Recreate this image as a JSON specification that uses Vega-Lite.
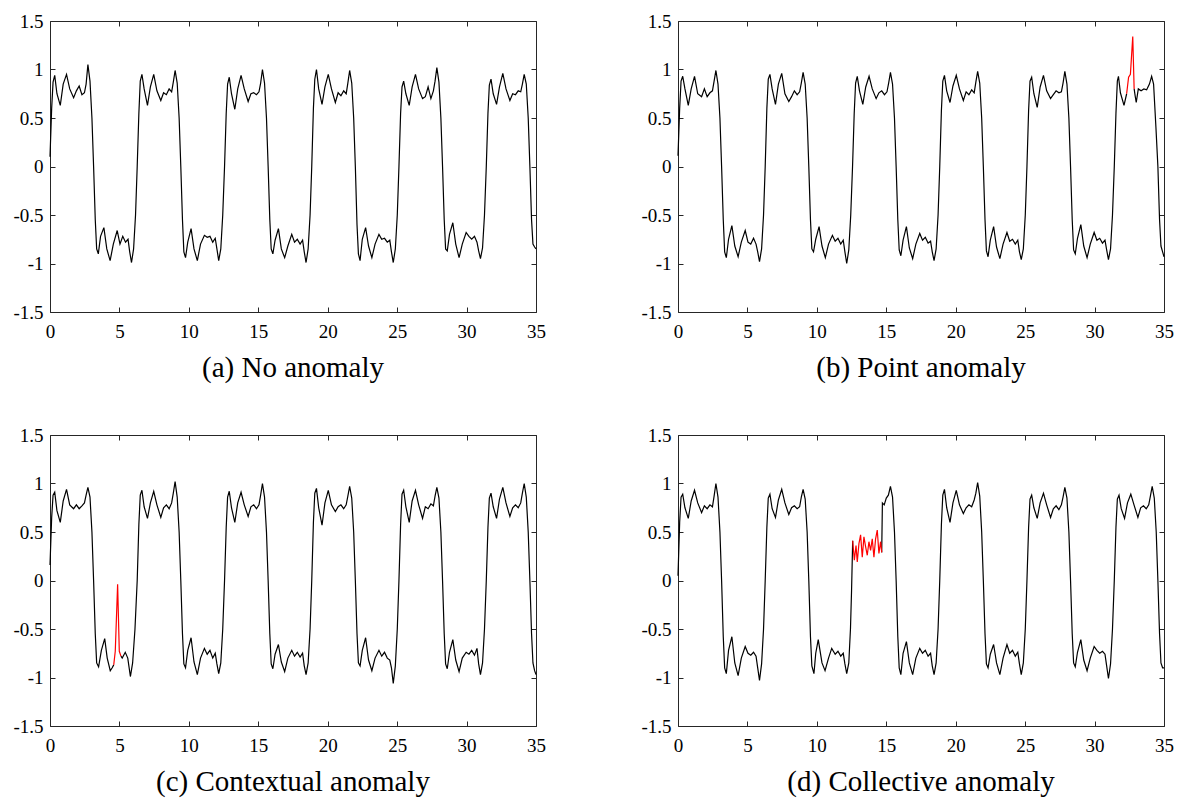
{
"$schema": "https://vega.github.io/schema/vega-lite/v6.json",
"padding": {"left": 12, "top": 12, "right": 5, "bottom": 5},
"background": "white",
"columns": 2,
"spacing": {"row": 123, "column": 142},
"bounds": "flush",
"config": {
  "view": {"stroke": null},
  "axis": {"grid": false, "domainColor": "#262626", "domainWidth": 1, "tickColor": "#262626", "tickSize": -5, "tickWidth": 1, "labelFont": "Liberation Serif", "labelFontSize": 19, "labelColor": "#000000", "labelFlush": false, "labelOverlap": false},
  "axisBottom": {"labelPadding": 15},
  "axisLeft": {"labelPadding": 12},
  "style": {"guide-label": {"font": "Liberation Serif", "fontSize": 19, "fill": "#000000"}},
  "title": {"font": "Liberation Serif", "fontSize": 29, "fontWeight": "normal", "color": "#000000", "orient": "bottom", "offset": 13, "anchor": "middle"},
  "line": {"strokeWidth": 1.2}
},
"datasets": {
"a": [
{"x":0,"y":0.1},{"x":0.12,"y":0.6},{"x":0.22,"y":0.87},{"x":0.34,"y":0.94},{"x":0.5,"y":0.75},{"x":0.74,"y":0.63},{"x":0.95,"y":0.85},{"x":1.19,"y":0.95},{"x":1.42,"y":0.8},{"x":1.7,"y":0.71},{"x":1.9,"y":0.78},{"x":2.1,"y":0.83},{"x":2.3,"y":0.74},{"x":2.48,"y":0.76},{"x":2.6,"y":0.85},{"x":2.73,"y":1.05},{"x":2.88,"y":0.88},{"x":3.02,"y":0.5},
{"x":3.14,"y":0},{"x":3.26,"y":-0.55},{"x":3.36,"y":-0.85},{"x":3.48,"y":-0.9},{"x":3.64,"y":-0.72},{"x":3.88,"y":-0.63},{"x":4.09,"y":-0.85},{"x":4.33,"y":-0.97},{"x":4.56,"y":-0.8},{"x":4.84,"y":-0.66},{"x":5.04,"y":-0.8},{"x":5.24,"y":-0.72},{"x":5.44,"y":-0.78},{"x":5.62,"y":-0.75},{"x":5.74,"y":-0.88},{"x":5.87,"y":-0.99},{"x":6.02,"y":-0.85},{"x":6.16,"y":-0.5},
{"x":6.28,"y":0},{"x":6.4,"y":0.55},{"x":6.5,"y":0.88},{"x":6.62,"y":0.95},{"x":6.78,"y":0.8},{"x":7.02,"y":0.63},{"x":7.23,"y":0.82},{"x":7.47,"y":0.95},{"x":7.7,"y":0.78},{"x":7.98,"y":0.68},{"x":8.18,"y":0.76},{"x":8.38,"y":0.74},{"x":8.58,"y":0.8},{"x":8.76,"y":0.77},{"x":8.88,"y":0.87},{"x":9.01,"y":0.99},{"x":9.16,"y":0.86},{"x":9.3,"y":0.5},
{"x":9.42,"y":0},{"x":9.54,"y":-0.55},{"x":9.64,"y":-0.88},{"x":9.76,"y":-0.94},{"x":9.92,"y":-0.78},{"x":10.16,"y":-0.64},{"x":10.37,"y":-0.85},{"x":10.61,"y":-0.97},{"x":10.84,"y":-0.8},{"x":11.12,"y":-0.71},{"x":11.32,"y":-0.73},{"x":11.52,"y":-0.72},{"x":11.72,"y":-0.78},{"x":11.9,"y":-0.74},{"x":12.02,"y":-0.85},{"x":12.15,"y":-0.97},{"x":12.3,"y":-0.85},{"x":12.44,"y":-0.5},
{"x":12.57,"y":0},{"x":12.69,"y":0.55},{"x":12.79,"y":0.85},{"x":12.91,"y":0.92},{"x":13.07,"y":0.75},{"x":13.31,"y":0.59},{"x":13.52,"y":0.8},{"x":13.76,"y":0.94},{"x":13.99,"y":0.8},{"x":14.27,"y":0.67},{"x":14.47,"y":0.75},{"x":14.67,"y":0.76},{"x":14.87,"y":0.74},{"x":15.05,"y":0.77},{"x":15.17,"y":0.86},{"x":15.3,"y":1},{"x":15.45,"y":0.86},{"x":15.59,"y":0.5},
{"x":15.71,"y":0},{"x":15.83,"y":-0.55},{"x":15.93,"y":-0.85},{"x":16.05,"y":-0.9},{"x":16.21,"y":-0.76},{"x":16.45,"y":-0.64},{"x":16.66,"y":-0.85},{"x":16.9,"y":-0.94},{"x":17.13,"y":-0.82},{"x":17.41,"y":-0.7},{"x":17.61,"y":-0.78},{"x":17.81,"y":-0.75},{"x":18.01,"y":-0.8},{"x":18.19,"y":-0.76},{"x":18.31,"y":-0.88},{"x":18.44,"y":-0.99},{"x":18.59,"y":-0.85},{"x":18.73,"y":-0.5},
{"x":18.85,"y":0},{"x":18.97,"y":0.6},{"x":19.07,"y":0.9},{"x":19.19,"y":1},{"x":19.35,"y":0.8},{"x":19.59,"y":0.64},{"x":19.8,"y":0.82},{"x":20.04,"y":0.95},{"x":20.27,"y":0.8},{"x":20.55,"y":0.66},{"x":20.75,"y":0.76},{"x":20.95,"y":0.73},{"x":21.15,"y":0.78},{"x":21.33,"y":0.75},{"x":21.45,"y":0.86},{"x":21.58,"y":0.99},{"x":21.73,"y":0.86},{"x":21.87,"y":0.5},
{"x":21.99,"y":0},{"x":22.11,"y":-0.6},{"x":22.21,"y":-0.9},{"x":22.33,"y":-0.97},{"x":22.49,"y":-0.75},{"x":22.73,"y":-0.63},{"x":22.94,"y":-0.82},{"x":23.18,"y":-0.94},{"x":23.41,"y":-0.8},{"x":23.69,"y":-0.7},{"x":23.89,"y":-0.75},{"x":24.09,"y":-0.74},{"x":24.29,"y":-0.78},{"x":24.47,"y":-0.76},{"x":24.59,"y":-0.88},{"x":24.72,"y":-0.99},{"x":24.87,"y":-0.85},{"x":25.01,"y":-0.5},
{"x":25.13,"y":0},{"x":25.25,"y":0.55},{"x":25.35,"y":0.82},{"x":25.47,"y":0.88},{"x":25.63,"y":0.75},{"x":25.87,"y":0.63},{"x":26.08,"y":0.82},{"x":26.32,"y":0.95},{"x":26.55,"y":0.8},{"x":26.83,"y":0.7},{"x":27.03,"y":0.72},{"x":27.23,"y":0.82},{"x":27.43,"y":0.7},{"x":27.61,"y":0.78},{"x":27.73,"y":0.88},{"x":27.86,"y":1.02},{"x":28.01,"y":0.87},{"x":28.15,"y":0.5},
{"x":28.27,"y":0},{"x":28.39,"y":-0.55},{"x":28.49,"y":-0.85},{"x":28.61,"y":-0.87},{"x":28.77,"y":-0.7},{"x":29.01,"y":-0.58},{"x":29.22,"y":-0.8},{"x":29.46,"y":-0.94},{"x":29.69,"y":-0.8},{"x":29.97,"y":-0.68},{"x":30.17,"y":-0.72},{"x":30.37,"y":-0.75},{"x":30.57,"y":-0.72},{"x":30.75,"y":-0.78},{"x":30.87,"y":-0.87},{"x":31,"y":-0.95},{"x":31.15,"y":-0.84},{"x":31.29,"y":-0.5},
{"x":31.42,"y":0},{"x":31.54,"y":0.55},{"x":31.64,"y":0.84},{"x":31.76,"y":0.9},{"x":31.92,"y":0.75},{"x":32.16,"y":0.64},{"x":32.37,"y":0.82},{"x":32.61,"y":0.96},{"x":32.84,"y":0.8},{"x":33.12,"y":0.68},{"x":33.32,"y":0.75},{"x":33.52,"y":0.74},{"x":33.72,"y":0.78},{"x":33.9,"y":0.77},{"x":34.02,"y":0.85},{"x":34.15,"y":0.95},{"x":34.3,"y":0.85},{"x":34.44,"y":0.5},
{"x":34.56,"y":0},{"x":34.68,"y":-0.55},{"x":34.78,"y":-0.8},{"x":34.9,"y":-0.83},{"x":35,"y":-0.85}
],
"b1": [
{"x":0,"y":0.11},{"x":0.12,"y":0.6},{"x":0.22,"y":0.88},{"x":0.34,"y":0.93},{"x":0.5,"y":0.8},{"x":0.74,"y":0.63},{"x":0.95,"y":0.8},{"x":1.19,"y":0.93},{"x":1.42,"y":0.75},{"x":1.7,"y":0.72},{"x":1.9,"y":0.8},{"x":2.1,"y":0.72},{"x":2.3,"y":0.76},{"x":2.48,"y":0.78},{"x":2.6,"y":0.88},{"x":2.73,"y":0.99},{"x":2.88,"y":0.85},{"x":3.02,"y":0.5},
{"x":3.14,"y":0},{"x":3.26,"y":-0.55},{"x":3.36,"y":-0.88},{"x":3.48,"y":-0.94},{"x":3.64,"y":-0.75},{"x":3.88,"y":-0.61},{"x":4.09,"y":-0.82},{"x":4.33,"y":-0.93},{"x":4.56,"y":-0.78},{"x":4.84,"y":-0.66},{"x":5.04,"y":-0.78},{"x":5.24,"y":-0.8},{"x":5.44,"y":-0.74},{"x":5.62,"y":-0.8},{"x":5.74,"y":-0.88},{"x":5.87,"y":-0.98},{"x":6.02,"y":-0.85},{"x":6.16,"y":-0.5},
{"x":6.28,"y":0},{"x":6.4,"y":0.6},{"x":6.5,"y":0.9},{"x":6.62,"y":0.95},{"x":6.78,"y":0.8},{"x":7.02,"y":0.64},{"x":7.23,"y":0.85},{"x":7.47,"y":0.96},{"x":7.7,"y":0.75},{"x":7.98,"y":0.67},{"x":8.18,"y":0.72},{"x":8.38,"y":0.78},{"x":8.58,"y":0.74},{"x":8.76,"y":0.77},{"x":8.88,"y":0.86},{"x":9.01,"y":0.97},{"x":9.16,"y":0.85},{"x":9.3,"y":0.5},
{"x":9.42,"y":0},{"x":9.54,"y":-0.55},{"x":9.64,"y":-0.85},{"x":9.76,"y":-0.88},{"x":9.92,"y":-0.75},{"x":10.16,"y":-0.62},{"x":10.37,"y":-0.82},{"x":10.61,"y":-0.94},{"x":10.84,"y":-0.8},{"x":11.12,"y":-0.71},{"x":11.32,"y":-0.77},{"x":11.52,"y":-0.74},{"x":11.72,"y":-0.8},{"x":11.9,"y":-0.76},{"x":12.02,"y":-0.88},{"x":12.15,"y":-1},{"x":12.3,"y":-0.86},{"x":12.44,"y":-0.5},
{"x":12.57,"y":0},{"x":12.69,"y":0.55},{"x":12.79,"y":0.86},{"x":12.91,"y":0.93},{"x":13.07,"y":0.78},{"x":13.31,"y":0.64},{"x":13.52,"y":0.82},{"x":13.76,"y":0.93},{"x":13.99,"y":0.8},{"x":14.27,"y":0.7},{"x":14.47,"y":0.76},{"x":14.67,"y":0.78},{"x":14.87,"y":0.74},{"x":15.05,"y":0.77},{"x":15.17,"y":0.86},{"x":15.3,"y":0.97},{"x":15.45,"y":0.85},{"x":15.59,"y":0.5},
{"x":15.71,"y":0},{"x":15.83,"y":-0.55},{"x":15.93,"y":-0.86},{"x":16.05,"y":-0.92},{"x":16.21,"y":-0.76},{"x":16.45,"y":-0.62},{"x":16.66,"y":-0.84},{"x":16.9,"y":-0.95},{"x":17.13,"y":-0.8},{"x":17.41,"y":-0.69},{"x":17.61,"y":-0.76},{"x":17.81,"y":-0.73},{"x":18.01,"y":-0.79},{"x":18.19,"y":-0.77},{"x":18.31,"y":-0.88},{"x":18.44,"y":-0.97},{"x":18.59,"y":-0.85},{"x":18.73,"y":-0.5},
{"x":18.85,"y":0},{"x":18.97,"y":0.58},{"x":19.07,"y":0.88},{"x":19.19,"y":0.94},{"x":19.35,"y":0.78},{"x":19.59,"y":0.66},{"x":19.8,"y":0.83},{"x":20.04,"y":0.94},{"x":20.27,"y":0.8},{"x":20.55,"y":0.68},{"x":20.75,"y":0.77},{"x":20.95,"y":0.74},{"x":21.15,"y":0.79},{"x":21.33,"y":0.76},{"x":21.45,"y":0.87},{"x":21.58,"y":0.98},{"x":21.73,"y":0.86},{"x":21.87,"y":0.5},
{"x":21.99,"y":0},{"x":22.11,"y":-0.55},{"x":22.21,"y":-0.87},{"x":22.33,"y":-0.93},{"x":22.49,"y":-0.76},{"x":22.73,"y":-0.62},{"x":22.94,"y":-0.83},{"x":23.18,"y":-0.95},{"x":23.41,"y":-0.8},{"x":23.69,"y":-0.68},{"x":23.89,"y":-0.77},{"x":24.09,"y":-0.75},{"x":24.29,"y":-0.8},{"x":24.47,"y":-0.76},{"x":24.59,"y":-0.88},{"x":24.72,"y":-0.96},{"x":24.87,"y":-0.85},{"x":25.01,"y":-0.5},
{"x":25.13,"y":0},{"x":25.25,"y":0.58},{"x":25.35,"y":0.88},{"x":25.47,"y":0.92},{"x":25.63,"y":0.75},{"x":25.87,"y":0.61},{"x":26.08,"y":0.82},{"x":26.32,"y":0.94},{"x":26.55,"y":0.78},{"x":26.83,"y":0.7},{"x":27.03,"y":0.74},{"x":27.23,"y":0.78},{"x":27.43,"y":0.76},{"x":27.61,"y":0.77},{"x":27.73,"y":0.86},{"x":27.86,"y":0.98},{"x":28.01,"y":0.85},{"x":28.15,"y":0.5},
{"x":28.27,"y":0},{"x":28.39,"y":-0.55},{"x":28.49,"y":-0.86},{"x":28.61,"y":-0.9},{"x":28.77,"y":-0.74},{"x":29.01,"y":-0.6},{"x":29.22,"y":-0.82},{"x":29.46,"y":-0.94},{"x":29.69,"y":-0.8},{"x":29.97,"y":-0.68},{"x":30.17,"y":-0.76},{"x":30.37,"y":-0.74},{"x":30.57,"y":-0.79},{"x":30.75,"y":-0.76},{"x":30.87,"y":-0.86},{"x":31,"y":-0.96},{"x":31.15,"y":-0.85},{"x":31.29,"y":-0.5},
{"x":31.42,"y":0},{"x":31.54,"y":0.55},{"x":31.64,"y":0.88},{"x":31.72,"y":0.93},{"x":31.86,"y":0.76},{"x":32.12,"y":0.63},{"x":32.31,"y":0.75}
],
"b2": [
{"x":32.85,"y":0.8},{"x":32.92,"y":0.73},{"x":33,"y":0.66},{"x":33.15,"y":0.8},{"x":33.35,"y":0.78},{"x":33.55,"y":0.8},{"x":33.75,"y":0.79},{"x":33.95,"y":0.85},{"x":34.11,"y":0.93},{"x":34.25,"y":0.85},{"x":34.42,"y":0.4},{"x":34.56,"y":0},{"x":34.68,"y":-0.55},{"x":34.78,"y":-0.82},{"x":34.9,"y":-0.88},{"x":35,"y":-0.93}
],
"bR": [
{"x":32.31,"y":0.75},{"x":32.45,"y":0.92},{"x":32.58,"y":0.95},{"x":32.75,"y":1.34},{"x":32.85,"y":0.8}
],
"c1": [
{"x":0,"y":0.16},{"x":0.12,"y":0.65},{"x":0.22,"y":0.88},{"x":0.34,"y":0.91},{"x":0.5,"y":0.72},{"x":0.74,"y":0.6},{"x":0.95,"y":0.82},{"x":1.19,"y":0.94},{"x":1.42,"y":0.78},{"x":1.7,"y":0.74},{"x":1.9,"y":0.78},{"x":2.1,"y":0.74},{"x":2.3,"y":0.77},{"x":2.48,"y":0.8},{"x":2.6,"y":0.88},{"x":2.73,"y":0.96},{"x":2.88,"y":0.86},{"x":3.02,"y":0.5},
{"x":3.14,"y":0},{"x":3.26,"y":-0.55},{"x":3.36,"y":-0.85},{"x":3.5,"y":-0.89},{"x":3.7,"y":-0.72},{"x":3.94,"y":-0.6},{"x":4.12,"y":-0.8},{"x":4.34,"y":-0.93},{"x":4.48,"y":-0.9},{"x":4.59,"y":-0.87}
],
"cR": [
{"x":4.59,"y":-0.87},{"x":4.7,"y":-0.73},{"x":4.87,"y":-0.04},{"x":4.99,"y":-0.73},{"x":5.11,"y":-0.78}
],
"c2": [
{"x":5.11,"y":-0.78},{"x":5.2,"y":-0.8},{"x":5.42,"y":-0.74},{"x":5.6,"y":-0.8},{"x":5.79,"y":-0.99},{"x":5.95,"y":-0.85},{"x":6.12,"y":-0.5},
{"x":6.28,"y":0},{"x":6.4,"y":0.58},{"x":6.5,"y":0.88},{"x":6.62,"y":0.93},{"x":6.78,"y":0.76},{"x":7.02,"y":0.64},{"x":7.23,"y":0.8},{"x":7.47,"y":0.92},{"x":7.7,"y":0.78},{"x":7.98,"y":0.65},{"x":8.18,"y":0.75},{"x":8.38,"y":0.78},{"x":8.58,"y":0.74},{"x":8.76,"y":0.8},{"x":8.88,"y":0.9},{"x":9.01,"y":1.02},{"x":9.16,"y":0.86},{"x":9.3,"y":0.5},
{"x":9.42,"y":0},{"x":9.54,"y":-0.55},{"x":9.64,"y":-0.86},{"x":9.76,"y":-0.9},{"x":9.92,"y":-0.72},{"x":10.16,"y":-0.59},{"x":10.37,"y":-0.84},{"x":10.61,"y":-0.97},{"x":10.84,"y":-0.8},{"x":11.12,"y":-0.7},{"x":11.32,"y":-0.76},{"x":11.52,"y":-0.72},{"x":11.72,"y":-0.8},{"x":11.9,"y":-0.75},{"x":12.02,"y":-0.86},{"x":12.15,"y":-0.96},{"x":12.3,"y":-0.85},{"x":12.44,"y":-0.5},
{"x":12.57,"y":0},{"x":12.69,"y":0.55},{"x":12.79,"y":0.86},{"x":12.91,"y":0.92},{"x":13.07,"y":0.75},{"x":13.31,"y":0.6},{"x":13.52,"y":0.8},{"x":13.76,"y":0.91},{"x":13.99,"y":0.78},{"x":14.27,"y":0.66},{"x":14.47,"y":0.76},{"x":14.67,"y":0.78},{"x":14.87,"y":0.74},{"x":15.05,"y":0.78},{"x":15.17,"y":0.88},{"x":15.3,"y":1},{"x":15.45,"y":0.86},{"x":15.59,"y":0.5},
{"x":15.71,"y":0},{"x":15.83,"y":-0.55},{"x":15.93,"y":-0.86},{"x":16.05,"y":-0.91},{"x":16.21,"y":-0.76},{"x":16.45,"y":-0.66},{"x":16.66,"y":-0.84},{"x":16.9,"y":-0.94},{"x":17.13,"y":-0.8},{"x":17.41,"y":-0.72},{"x":17.61,"y":-0.78},{"x":17.81,"y":-0.74},{"x":18.01,"y":-0.79},{"x":18.19,"y":-0.75},{"x":18.31,"y":-0.88},{"x":18.44,"y":-0.97},{"x":18.59,"y":-0.85},{"x":18.73,"y":-0.5},
{"x":18.85,"y":0},{"x":18.97,"y":0.6},{"x":19.07,"y":0.9},{"x":19.19,"y":0.95},{"x":19.35,"y":0.75},{"x":19.59,"y":0.57},{"x":19.8,"y":0.8},{"x":20.04,"y":0.93},{"x":20.27,"y":0.78},{"x":20.55,"y":0.71},{"x":20.75,"y":0.76},{"x":20.95,"y":0.78},{"x":21.15,"y":0.74},{"x":21.33,"y":0.78},{"x":21.45,"y":0.87},{"x":21.58,"y":0.97},{"x":21.73,"y":0.85},{"x":21.87,"y":0.5},
{"x":21.99,"y":0},{"x":22.11,"y":-0.55},{"x":22.21,"y":-0.85},{"x":22.33,"y":-0.88},{"x":22.49,"y":-0.72},{"x":22.73,"y":-0.59},{"x":22.94,"y":-0.82},{"x":23.18,"y":-0.93},{"x":23.41,"y":-0.8},{"x":23.69,"y":-0.72},{"x":23.89,"y":-0.78},{"x":24.09,"y":-0.74},{"x":24.29,"y":-0.8},{"x":24.47,"y":-0.82},{"x":24.59,"y":-0.9},{"x":24.72,"y":-1.06},{"x":24.87,"y":-0.88},{"x":25.01,"y":-0.5},
{"x":25.13,"y":0},{"x":25.25,"y":0.58},{"x":25.35,"y":0.89},{"x":25.47,"y":0.93},{"x":25.63,"y":0.76},{"x":25.87,"y":0.6},{"x":26.08,"y":0.82},{"x":26.32,"y":0.93},{"x":26.55,"y":0.78},{"x":26.83,"y":0.64},{"x":27.03,"y":0.76},{"x":27.23,"y":0.74},{"x":27.43,"y":0.79},{"x":27.61,"y":0.77},{"x":27.73,"y":0.87},{"x":27.86,"y":0.96},{"x":28.01,"y":0.85},{"x":28.15,"y":0.5},
{"x":28.27,"y":0},{"x":28.39,"y":-0.55},{"x":28.49,"y":-0.86},{"x":28.61,"y":-0.91},{"x":28.77,"y":-0.74},{"x":29.01,"y":-0.61},{"x":29.22,"y":-0.82},{"x":29.46,"y":-0.94},{"x":29.69,"y":-0.8},{"x":29.97,"y":-0.74},{"x":30.17,"y":-0.76},{"x":30.37,"y":-0.72},{"x":30.57,"y":-0.77},{"x":30.75,"y":-0.7},{"x":30.87,"y":-0.86},{"x":31,"y":-0.97},{"x":31.15,"y":-0.85},{"x":31.29,"y":-0.5},
{"x":31.42,"y":0},{"x":31.54,"y":0.55},{"x":31.64,"y":0.85},{"x":31.76,"y":0.9},{"x":31.92,"y":0.76},{"x":32.16,"y":0.64},{"x":32.37,"y":0.84},{"x":32.61,"y":0.96},{"x":32.84,"y":0.8},{"x":33.12,"y":0.66},{"x":33.32,"y":0.75},{"x":33.52,"y":0.78},{"x":33.72,"y":0.75},{"x":33.9,"y":0.8},{"x":34.02,"y":0.9},{"x":34.15,"y":1},{"x":34.3,"y":0.86},{"x":34.44,"y":0.5},
{"x":34.56,"y":0},{"x":34.68,"y":-0.55},{"x":34.78,"y":-0.85},{"x":34.9,"y":-0.93},{"x":35,"y":-0.97}
],
"d1": [
{"x":0,"y":0.05},{"x":0.12,"y":0.6},{"x":0.22,"y":0.86},{"x":0.34,"y":0.89},{"x":0.5,"y":0.75},{"x":0.74,"y":0.64},{"x":0.95,"y":0.82},{"x":1.19,"y":0.93},{"x":1.42,"y":0.8},{"x":1.7,"y":0.7},{"x":1.9,"y":0.77},{"x":2.1,"y":0.74},{"x":2.3,"y":0.78},{"x":2.48,"y":0.76},{"x":2.6,"y":0.87},{"x":2.73,"y":1},{"x":2.88,"y":0.86},{"x":3.02,"y":0.5},
{"x":3.14,"y":0},{"x":3.26,"y":-0.58},{"x":3.36,"y":-0.9},{"x":3.48,"y":-0.96},{"x":3.64,"y":-0.72},{"x":3.88,"y":-0.58},{"x":4.09,"y":-0.85},{"x":4.33,"y":-0.98},{"x":4.56,"y":-0.8},{"x":4.84,"y":-0.68},{"x":5.04,"y":-0.75},{"x":5.24,"y":-0.77},{"x":5.44,"y":-0.74},{"x":5.62,"y":-0.78},{"x":5.74,"y":-0.9},{"x":5.87,"y":-1.03},{"x":6.02,"y":-0.86},{"x":6.16,"y":-0.5},
{"x":6.28,"y":0},{"x":6.4,"y":0.55},{"x":6.5,"y":0.85},{"x":6.62,"y":0.89},{"x":6.78,"y":0.74},{"x":7.02,"y":0.65},{"x":7.23,"y":0.83},{"x":7.47,"y":0.94},{"x":7.7,"y":0.8},{"x":7.98,"y":0.68},{"x":8.18,"y":0.75},{"x":8.38,"y":0.77},{"x":8.58,"y":0.74},{"x":8.76,"y":0.76},{"x":8.88,"y":0.86},{"x":9.01,"y":0.94},{"x":9.16,"y":0.84},{"x":9.3,"y":0.5},
{"x":9.42,"y":0},{"x":9.54,"y":-0.58},{"x":9.64,"y":-0.88},{"x":9.79,"y":-0.96},{"x":9.92,"y":-0.75},{"x":10.1,"y":-0.61},{"x":10.37,"y":-0.85},{"x":10.59,"y":-0.93},{"x":10.84,"y":-0.8},{"x":11.07,"y":-0.7},{"x":11.32,"y":-0.76},{"x":11.52,"y":-0.73},{"x":11.72,"y":-0.78},{"x":11.9,"y":-0.75},{"x":12.02,"y":-0.86},{"x":12.15,"y":-0.96},{"x":12.3,"y":-0.85},{"x":12.42,"y":-0.5},{"x":12.5,"y":-0.1},{"x":12.58,"y":0.41}
],
"dR": [
{"x":12.58,"y":0.41},{"x":12.7,"y":0.21},{"x":12.82,"y":0.36},{"x":12.91,"y":0.19},{"x":13.03,"y":0.38},{"x":13.15,"y":0.47},{"x":13.27,"y":0.24},{"x":13.39,"y":0.45},{"x":13.51,"y":0.35},{"x":13.63,"y":0.26},{"x":13.75,"y":0.4},{"x":13.87,"y":0.31},{"x":13.99,"y":0.43},{"x":14.11,"y":0.24},{"x":14.23,"y":0.43},{"x":14.35,"y":0.52},{"x":14.47,"y":0.28},{"x":14.59,"y":0.4},{"x":14.67,"y":0.29}
],
"d2": [
{"x":14.67,"y":0.29},{"x":14.72,"y":0.8},{"x":14.85,"y":0.78},{"x":15,"y":0.85},{"x":15.15,"y":0.88},{"x":15.3,"y":0.97},{"x":15.45,"y":0.86},{"x":15.59,"y":0.5},
{"x":15.71,"y":0},{"x":15.83,"y":-0.58},{"x":15.93,"y":-0.9},{"x":16.05,"y":-0.97},{"x":16.21,"y":-0.75},{"x":16.45,"y":-0.63},{"x":16.66,"y":-0.85},{"x":16.9,"y":-0.97},{"x":17.13,"y":-0.8},{"x":17.41,"y":-0.7},{"x":17.61,"y":-0.75},{"x":17.81,"y":-0.72},{"x":18.01,"y":-0.78},{"x":18.19,"y":-0.75},{"x":18.31,"y":-0.88},{"x":18.44,"y":-0.97},{"x":18.59,"y":-0.85},{"x":18.73,"y":-0.5},
{"x":18.85,"y":0},{"x":18.97,"y":0.58},{"x":19.07,"y":0.88},{"x":19.19,"y":0.94},{"x":19.35,"y":0.75},{"x":19.59,"y":0.6},{"x":19.8,"y":0.8},{"x":20.04,"y":0.93},{"x":20.27,"y":0.78},{"x":20.55,"y":0.69},{"x":20.75,"y":0.75},{"x":20.95,"y":0.78},{"x":21.15,"y":0.76},{"x":21.33,"y":0.83},{"x":21.45,"y":0.9},{"x":21.58,"y":1.01},{"x":21.73,"y":0.87},{"x":21.87,"y":0.5},
{"x":21.99,"y":0},{"x":22.11,"y":-0.55},{"x":22.21,"y":-0.86},{"x":22.33,"y":-0.9},{"x":22.49,"y":-0.76},{"x":22.73,"y":-0.66},{"x":22.94,"y":-0.85},{"x":23.18,"y":-0.97},{"x":23.41,"y":-0.8},{"x":23.69,"y":-0.66},{"x":23.89,"y":-0.75},{"x":24.09,"y":-0.72},{"x":24.29,"y":-0.78},{"x":24.47,"y":-0.74},{"x":24.59,"y":-0.86},{"x":24.72,"y":-0.97},{"x":24.87,"y":-0.85},{"x":25.01,"y":-0.5},
{"x":25.13,"y":0},{"x":25.25,"y":0.55},{"x":25.35,"y":0.84},{"x":25.47,"y":0.88},{"x":25.63,"y":0.75},{"x":25.87,"y":0.64},{"x":26.08,"y":0.8},{"x":26.32,"y":0.9},{"x":26.55,"y":0.78},{"x":26.83,"y":0.65},{"x":27.03,"y":0.74},{"x":27.23,"y":0.77},{"x":27.43,"y":0.73},{"x":27.61,"y":0.78},{"x":27.73,"y":0.86},{"x":27.86,"y":0.96},{"x":28.01,"y":0.85},{"x":28.15,"y":0.5},
{"x":28.27,"y":0},{"x":28.39,"y":-0.55},{"x":28.49,"y":-0.85},{"x":28.61,"y":-0.89},{"x":28.77,"y":-0.74},{"x":29.01,"y":-0.61},{"x":29.22,"y":-0.82},{"x":29.46,"y":-0.93},{"x":29.69,"y":-0.8},{"x":29.97,"y":-0.68},{"x":30.17,"y":-0.72},{"x":30.37,"y":-0.75},{"x":30.57,"y":-0.73},{"x":30.75,"y":-0.76},{"x":30.87,"y":-0.88},{"x":31,"y":-1.01},{"x":31.15,"y":-0.86},{"x":31.29,"y":-0.5},
{"x":31.42,"y":0},{"x":31.54,"y":0.55},{"x":31.64,"y":0.84},{"x":31.76,"y":0.88},{"x":31.92,"y":0.74},{"x":32.16,"y":0.64},{"x":32.37,"y":0.8},{"x":32.61,"y":0.89},{"x":32.84,"y":0.78},{"x":33.12,"y":0.65},{"x":33.32,"y":0.75},{"x":33.52,"y":0.77},{"x":33.72,"y":0.74},{"x":33.9,"y":0.78},{"x":34.02,"y":0.87},{"x":34.15,"y":0.97},{"x":34.3,"y":0.85},{"x":34.44,"y":0.5},
{"x":34.56,"y":0},{"x":34.68,"y":-0.55},{"x":34.78,"y":-0.85},{"x":34.9,"y":-0.9},{"x":35,"y":-0.9}
]
},
"concat": [
{
 "width": 486, "height": 291,
 "title": {"text": "(a) No anomaly"},
 "layer": [
  {"data": {"name": "a"}, "mark": {"type": "line", "color": "#000000"},
   "encoding": {
    "x": {"field": "x", "type": "quantitative", "scale": {"domain": [0, 35], "nice": false}, "axis": {"orient": "bottom", "values": [0,5,10,15,20,25,30,35], "format": "d", "labelFont": "Liberation Serif", "labelFlush": false, "title": null}},
    "y": {"field": "y", "type": "quantitative", "scale": {"domain": [-1.5, 1.5], "nice": false}, "axis": {"orient": "left", "values": [-1.5,-1,-0.5,0,0.5,1,1.5], "labelFont": "Liberation Serif", "labelFlush": false, "labelExpr": "datum.value < 0 ? '-' + format(-datum.value, '~g') : format(datum.value, '~g')", "title": null}}}},
  {"data": {"name": "a"}, "mark": {"type": "line", "opacity": 0},
   "encoding": {
    "x": {"field": "x", "type": "quantitative", "scale": {"domain": [0, 35], "nice": false}, "axis": {"orient": "top", "values": [0,5,10,15,20,25,30,35], "labels": false, "title": null}},
    "y": {"field": "y", "type": "quantitative", "scale": {"domain": [-1.5, 1.5], "nice": false}, "axis": {"orient": "right", "values": [-1.5,-1,-0.5,0,0.5,1,1.5], "labels": false, "title": null}}}}
 ],
 "resolve": {"axis": {"x": "independent", "y": "independent"}}
},
{
 "width": 486, "height": 291,
 "title": {"text": "(b) Point anomaly"},
 "layer": [
  {"data": {"name": "b1"}, "mark": {"type": "line", "color": "#000000"},
   "encoding": {
    "x": {"field": "x", "type": "quantitative", "scale": {"domain": [0, 35], "nice": false}, "axis": {"orient": "bottom", "values": [0,5,10,15,20,25,30,35], "format": "d", "labelFont": "Liberation Serif", "labelFlush": false, "title": null}},
    "y": {"field": "y", "type": "quantitative", "scale": {"domain": [-1.5, 1.5], "nice": false}, "axis": {"orient": "left", "values": [-1.5,-1,-0.5,0,0.5,1,1.5], "labelFont": "Liberation Serif", "labelFlush": false, "labelExpr": "datum.value < 0 ? '-' + format(-datum.value, '~g') : format(datum.value, '~g')", "title": null}}}},
  {"data": {"name": "b2"}, "mark": {"type": "line", "color": "#000000"},
   "encoding": {"x": {"field": "x", "type": "quantitative", "axis": null}, "y": {"field": "y", "type": "quantitative", "axis": null}}},
  {"data": {"name": "bR"}, "mark": {"type": "line", "color": "#ff0000"},
   "encoding": {"x": {"field": "x", "type": "quantitative", "axis": null}, "y": {"field": "y", "type": "quantitative", "axis": null}}},
  {"data": {"name": "b1"}, "mark": {"type": "line", "opacity": 0},
   "encoding": {
    "x": {"field": "x", "type": "quantitative", "scale": {"domain": [0, 35], "nice": false}, "axis": {"orient": "top", "values": [0,5,10,15,20,25,30,35], "labels": false, "title": null}},
    "y": {"field": "y", "type": "quantitative", "scale": {"domain": [-1.5, 1.5], "nice": false}, "axis": {"orient": "right", "values": [-1.5,-1,-0.5,0,0.5,1,1.5], "labels": false, "title": null}}}}
 ],
 "resolve": {"axis": {"x": "independent", "y": "independent"}}
},
{
 "width": 486, "height": 291,
 "title": {"text": "(c) Contextual anomaly"},
 "layer": [
  {"data": {"name": "c1"}, "mark": {"type": "line", "color": "#000000"},
   "encoding": {
    "x": {"field": "x", "type": "quantitative", "scale": {"domain": [0, 35], "nice": false}, "axis": {"orient": "bottom", "values": [0,5,10,15,20,25,30,35], "format": "d", "labelFont": "Liberation Serif", "labelFlush": false, "title": null}},
    "y": {"field": "y", "type": "quantitative", "scale": {"domain": [-1.5, 1.5], "nice": false}, "axis": {"orient": "left", "values": [-1.5,-1,-0.5,0,0.5,1,1.5], "labelFont": "Liberation Serif", "labelFlush": false, "labelExpr": "datum.value < 0 ? '-' + format(-datum.value, '~g') : format(datum.value, '~g')", "title": null}}}},
  {"data": {"name": "c2"}, "mark": {"type": "line", "color": "#000000"},
   "encoding": {"x": {"field": "x", "type": "quantitative", "axis": null}, "y": {"field": "y", "type": "quantitative", "axis": null}}},
  {"data": {"name": "cR"}, "mark": {"type": "line", "color": "#ff0000"},
   "encoding": {"x": {"field": "x", "type": "quantitative", "axis": null}, "y": {"field": "y", "type": "quantitative", "axis": null}}},
  {"data": {"name": "c1"}, "mark": {"type": "line", "opacity": 0},
   "encoding": {
    "x": {"field": "x", "type": "quantitative", "scale": {"domain": [0, 35], "nice": false}, "axis": {"orient": "top", "values": [0,5,10,15,20,25,30,35], "labels": false, "title": null}},
    "y": {"field": "y", "type": "quantitative", "scale": {"domain": [-1.5, 1.5], "nice": false}, "axis": {"orient": "right", "values": [-1.5,-1,-0.5,0,0.5,1,1.5], "labels": false, "title": null}}}}
 ],
 "resolve": {"axis": {"x": "independent", "y": "independent"}}
},
{
 "width": 486, "height": 291,
 "title": {"text": "(d) Collective anomaly"},
 "layer": [
  {"data": {"name": "d1"}, "mark": {"type": "line", "color": "#000000"},
   "encoding": {
    "x": {"field": "x", "type": "quantitative", "scale": {"domain": [0, 35], "nice": false}, "axis": {"orient": "bottom", "values": [0,5,10,15,20,25,30,35], "format": "d", "labelFont": "Liberation Serif", "labelFlush": false, "title": null}},
    "y": {"field": "y", "type": "quantitative", "scale": {"domain": [-1.5, 1.5], "nice": false}, "axis": {"orient": "left", "values": [-1.5,-1,-0.5,0,0.5,1,1.5], "labelFont": "Liberation Serif", "labelFlush": false, "labelExpr": "datum.value < 0 ? '-' + format(-datum.value, '~g') : format(datum.value, '~g')", "title": null}}}},
  {"data": {"name": "d2"}, "mark": {"type": "line", "color": "#000000"},
   "encoding": {"x": {"field": "x", "type": "quantitative", "axis": null}, "y": {"field": "y", "type": "quantitative", "axis": null}}},
  {"data": {"name": "dR"}, "mark": {"type": "line", "color": "#ff0000"},
   "encoding": {"x": {"field": "x", "type": "quantitative", "axis": null}, "y": {"field": "y", "type": "quantitative", "axis": null}}},
  {"data": {"name": "d1"}, "mark": {"type": "line", "opacity": 0},
   "encoding": {
    "x": {"field": "x", "type": "quantitative", "scale": {"domain": [0, 35], "nice": false}, "axis": {"orient": "top", "values": [0,5,10,15,20,25,30,35], "labels": false, "title": null}},
    "y": {"field": "y", "type": "quantitative", "scale": {"domain": [-1.5, 1.5], "nice": false}, "axis": {"orient": "right", "values": [-1.5,-1,-0.5,0,0.5,1,1.5], "labels": false, "title": null}}}}
 ],
 "resolve": {"axis": {"x": "independent", "y": "independent"}}
}
]
}
